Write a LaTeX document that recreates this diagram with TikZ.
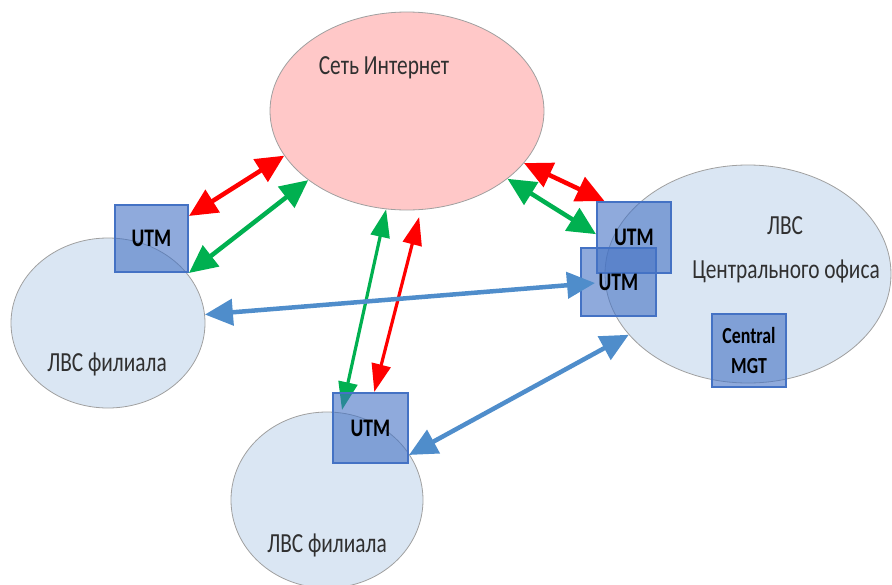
\documentclass[tikz,border=0pt]{standalone}
\usepackage{fontspec}
\setmainfont{Carlito}
\usetikzlibrary{shapes.geometric,arrows.meta,calc}

\definecolor{netpink}{HTML}{FFC8C8}
\definecolor{lanblue}{HTML}{DAE6F3}
\definecolor{boxblue}{HTML}{4472C4}
\definecolor{linkred}{HTML}{FF0000}
\definecolor{linkgreen}{HTML}{00B050}
\definecolor{linkblue}{HTML}{4F8DCB}
\definecolor{rimgray}{HTML}{A0A0A0}
\definecolor{labelgray}{HTML}{303030}

\pgfdeclarelayer{back}
\pgfdeclarelayer{wires}
\pgfsetlayers{back,wires,main}

\tikzset{
  zone/.style={ellipse, draw=rimgray, line width=0.8pt, inner sep=0pt},
  netzone/.style={zone, fill=netpink},
  lanzone/.style={zone, fill=lanblue},
  gatebox/.style={rectangle, draw=boxblue, line width=2pt, fill=boxblue,
    fill opacity=0.6, text opacity=1, inner sep=0pt,
    font=\bfseries\fontsize{22}{24}\selectfont},
  zonelabel/.style={text=labelgray, inner sep=0pt, font=\fontsize{24}{26}\selectfont},
  duplex/.style={line width=4.5pt,
    {Triangle[length=28pt,width=26pt]}-{Triangle[length=28pt,width=26pt]}},
  duplexthin/.style={line width=3.2pt,
    {Triangle[length=28pt,width=19pt]}-{Triangle[length=28pt,width=19pt]}},
}

% condensed, slightly tall lettering
\newcommand{\narrow}[1]{\scalebox{0.89}[1.15]{#1}}

\begin{document}
\begin{tikzpicture}[x=1pt,y=-1pt]
  \useasboundingbox (0,0) rectangle (892,584);
  \clip (0,0) rectangle (892,584);

  % networks
  \begin{pgfonlayer}{back}
    \node[netzone, minimum width=274pt, minimum height=198pt] (inet) at (407,111) {};
    \node[lanzone, minimum width=194pt, minimum height=170pt] (lanL) at (108,323) {};
    \node[lanzone, minimum width=192pt, minimum height=176pt] (lanD) at (327,500) {};
    \node[lanzone, minimum width=286pt, minimum height=218pt] (lanC) at (748,274) {};

    \node[zonelabel] (tInet) at (384,68) {\narrow{Сеть Интернет}};
    \node[zonelabel] (tC1) at (785,226) {\narrow{ЛВС}};
    \node[zonelabel] (tC2) at (786,271) {\narrow{Центрального офиса}};
    \node[zonelabel] (tL) at (107,364) {\narrow{ЛВС филиала}};
    \node[zonelabel] (tD) at (327,545) {\narrow{ЛВС филиала}};
  \end{pgfonlayer}

  % gateways
  \node[gatebox, minimum width=73pt, minimum height=67pt] (utmL) at (151.5,238.5) {\narrow{UTM}};
  \node[gatebox, minimum width=74pt, minimum height=71pt] (utmT) at (634,237.5) {\narrow{UTM}};
  \node[gatebox, minimum width=75pt, minimum height=68pt] (utmB) at (618.5,282) {\narrow{UTM}};
  \node[gatebox, minimum width=75pt, minimum height=70pt] (utmD) at (370.5,428) {\narrow{UTM}};
  \node[gatebox, minimum width=74pt, minimum height=73pt, align=center,
        font=\bfseries\fontsize{20}{30}\selectfont] (mgt) at (749,350.5)
        {\narrow{Central}\\\narrow{MGT}};

  % internet links
  \begin{pgfonlayer}{wires}
    \draw[duplex, linkred] (utmL.31) -- (inet.200);
    \draw[duplex, linkgreen] (utmL.south east) -- (inet.215);
    \draw[duplex, linkred] (inet.336) -- (utmT.129);
    \draw[duplex, linkgreen] (inet.326) -- (utmT.175);
    \draw[duplexthin, linkgreen] (inet.258) -- ($(utmD.north west)+(10,18)$);
    \draw[duplexthin, linkred] ($(inet.277)+(0,7)$) -- (utmD.84);
  \end{pgfonlayer}

  % office links
  \draw[duplex, linkblue] (lanL.5) -- ($(utmB.west)+(15,1)$);
  \draw[duplex, linkblue] (utmD.-35) -- (lanC.207);
\end{tikzpicture}
\end{document}
